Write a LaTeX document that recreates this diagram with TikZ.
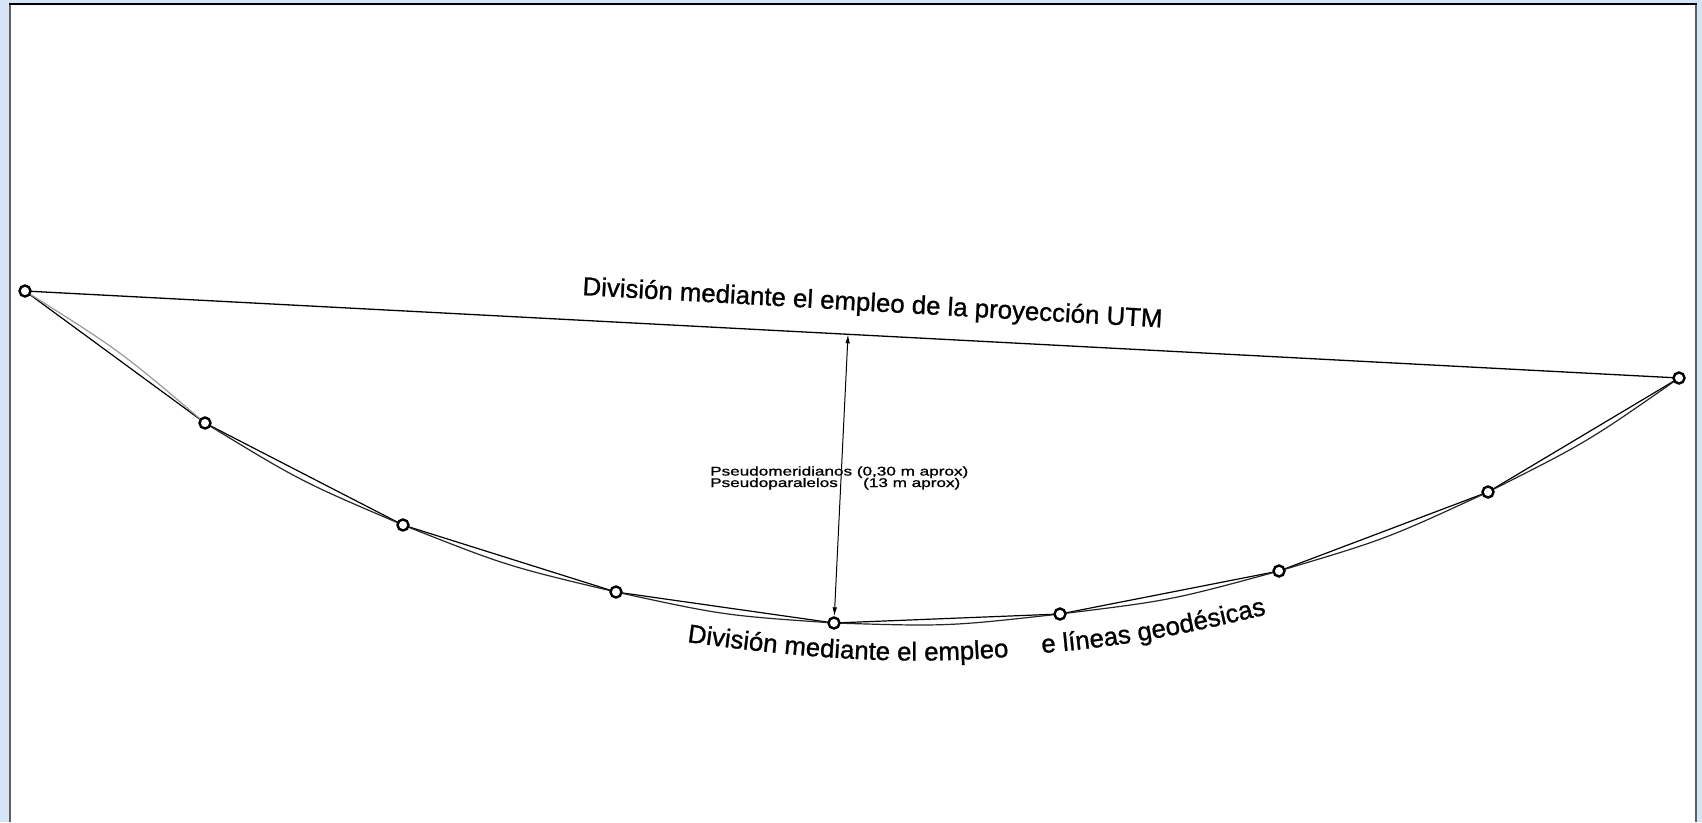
\documentclass[tikz,border=0pt]{standalone}
\usepackage{fontspec}
\setmainfont{Liberation Sans}[UprightFeatures={FakeBold=1.0}]
\usetikzlibrary{calc,arrows.meta,decorations.text}
\definecolor{bgblue}{RGB}{214,229,245}
\definecolor{framegray}{RGB}{95,95,95}
\newcommand{\bigtxt}{\fontsize{25.8}{30}\selectfont}
\newcommand{\smalltxt}{\fontsize{12.6}{11.5}\selectfont}
\newcommand{\widetxt}[1]{\scalebox{1.36}[1]{#1}}
\begin{document}
\begin{tikzpicture}[x=1pt,y=-1pt,
  pt/.style={circle,draw,fill=white,line width=2.4pt,minimum size=11pt,inner sep=0pt},
  chord/.style={line width=1.2pt,black},
  geod/.style={line width=1.2pt,black!85},
  utm/.style={line width=1.3pt,black},
  lbl/.style={anchor=base west,inner sep=0pt},
  dim/.style={line width=1pt,{Latex[length=9pt,width=4.5pt]}-{Latex[length=9pt,width=4.5pt]}}]
\useasboundingbox (0,0) rectangle (1702,822);
\fill[bgblue] (0,0) rectangle (1702,822);
\fill[white] (10,4) rectangle (1696,822);
\draw[framegray,line width=2pt] (10,822) -- (10,4);
\draw[framegray,line width=2pt] (1696,4) -- (1696,822);
\draw[black,line width=1.5pt] (9,4) -- (1697,4);
% points
\coordinate (c0) at (25,291);
\coordinate (c1) at (205,423);
\coordinate (c2) at (403,525);
\coordinate (c3) at (616,592);
\coordinate (c4) at (834,623);
\coordinate (c5) at (1060,614);
\coordinate (c6) at (1279,571);
\coordinate (c7) at (1488,492);
\coordinate (c8) at (1679,378);
% UTM line
\draw[utm] (c0) -- (c8);
% geodesic double lines
\draw[chord] (c0) -- (c1);
\draw[geod,black!40] (c0) .. controls ($(c0)!0.5!(c1)!8pt!90:(c1)$) .. (c1);
\foreach \a/\b in {1/2,2/3,3/4,4/5,5/6,6/7,7/8}{
  \draw[chord] (c\a) -- (c\b);
  \draw[geod] (c\a) .. controls ($(c\a)!0.5!(c\b)!8pt!-90:(c\b)$) .. (c\b);
}
% circles
\foreach \i in {0,...,8}{\node[pt] (p\i) at (c\i) {};}
% arrow
\coordinate (top) at ($(c0)!0.4976!(c8)$);
\draw[dim] (top) -- (p4);
% labels
\node[lbl,font=\bigtxt,rotate=-3.2] (title) at (582,295) {División mediante el empleo de la proyección UTM};
\node[lbl,font=\smalltxt] (lab1) at (710,475.5) {\widetxt{Pseudomeridianos (0,30 m aprox)}};
\node[lbl,font=\smalltxt] (lab2) at (710,487) {\widetxt{\makebox[112.5pt][l]{Pseudoparalelos}(13 m aprox)}};
\path[decorate,decoration={text along path,text={|\bigtxt|División mediante el empleo}}]
  (687,642) .. controls (917,674) and (1040,665) .. (1270,612);
\path[decorate,decoration={text along path,text={|\bigtxt|e líneas geodésicas}}]
  (1042,653) .. controls (1120,647) and (1190,634) .. (1300,606);
\end{tikzpicture}
\end{document}
